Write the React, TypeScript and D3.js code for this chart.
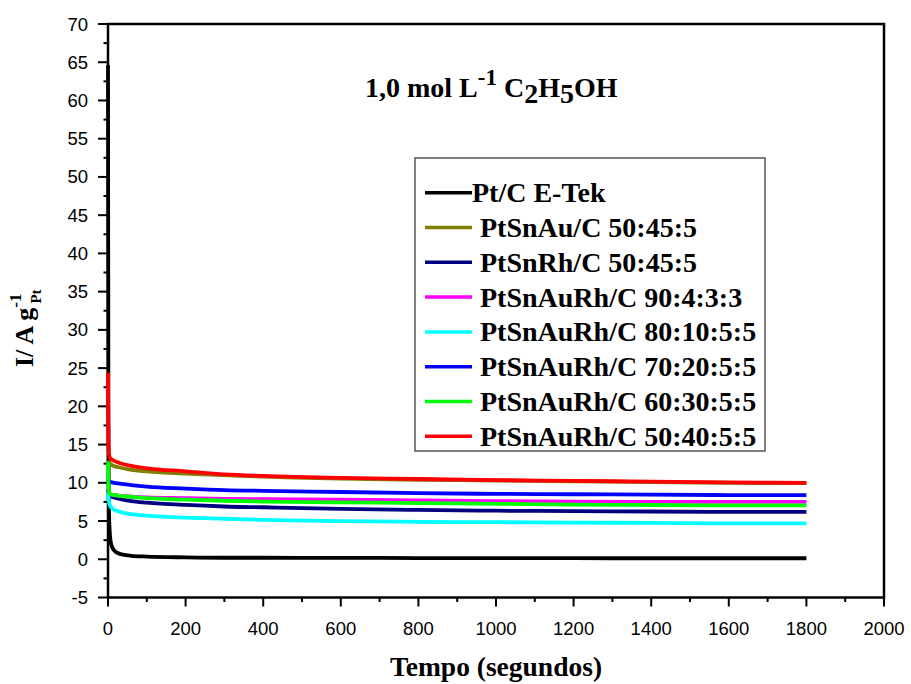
import React from "react";
import * as d3 from "d3";

const width = 911;
const height = 684;
const margin = { top: 24, right: 27, bottom: 86.5, left: 108 };

// time samples (s) shared by every curve
const tempo = [0, 1, 2, 4, 8, 15, 30, 60, 100, 200, 300, 400, 600, 800, 1000, 1200, 1400, 1600, 1800];

const etek = [64.6, 20, 8, 4, 2, 1.2, 0.7, 0.45, 0.35, 0.25, 0.2, 0.2, 0.18, 0.16, 0.15, 0.14, 0.13, 0.13, 0.13];
const ptSnAu = [12.9, 12.8, 12.7, 12.6, 12.4, 12.2, 12.0, 11.7, 11.5, 11.2, 11.0, 10.8, 10.55, 10.4, 10.3, 10.2, 10.1, 10.0, 9.95];
const ptSnRh = [9.0, 8.6, 8.4, 8.3, 8.2, 8.1, 7.9, 7.6, 7.4, 7.1, 6.9, 6.8, 6.6, 6.45, 6.35, 6.3, 6.25, 6.2, 6.2];
const r90 = [9.2, 8.8, 8.6, 8.5, 8.45, 8.4, 8.3, 8.2, 8.1, 8.0, 7.9, 7.85, 7.8, 7.7, 7.6, 7.55, 7.5, 7.5, 7.5];
const r80 = [8.8, 8.2, 7.7, 7.2, 6.8, 6.5, 6.2, 5.9, 5.7, 5.45, 5.3, 5.15, 5.0, 4.9, 4.85, 4.8, 4.75, 4.7, 4.7];
const r70 = [10.5, 10.3, 10.2, 10.15, 10.1, 10.0, 9.9, 9.7, 9.5, 9.25, 9.05, 8.95, 8.8, 8.65, 8.55, 8.5, 8.45, 8.4, 8.4];
const r60 = [12.7, 10, 9, 8.6, 8.5, 8.4, 8.3, 8.15, 8.0, 7.8, 7.65, 7.55, 7.45, 7.35, 7.25, 7.15, 7.1, 7.05, 7.05];
const r50 = [24.4, 16, 14, 13.4, 13.1, 12.9, 12.6, 12.2, 11.9, 11.5, 11.1, 10.9, 10.65, 10.5, 10.35, 10.25, 10.15, 10.05, 10.0];

const labels = [
  "Pt/C E-Tek",
  "PtSnAu/C 50:45:5",
  "PtSnRh/C 50:45:5",
  "PtSnAuRh/C 90:4:3:3",
  "PtSnAuRh/C 80:10:5:5",
  "PtSnAuRh/C 70:20:5:5",
  "PtSnAuRh/C 60:30:5:5",
  "PtSnAuRh/C 50:40:5:5",
];
const colors = ["#000000", "#808000", "#000080", "#ff00ff", "#00ffff", "#0000ff", "#00ff00", "#ff0000"];
const seriesValues = [etek, ptSnAu, ptSnRh, r90, r80, r70, r60, r50];

const xTicks = d3.range(0, 2001, 200);
const xMinor = d3.range(100, 2000, 200);
const yTicks = d3.range(-5, 71, 5);
const yMinor = d3.range(-2.5, 70, 5);

const serif = "'Liberation Serif', 'Times New Roman', serif";
const sans = "'Liberation Sans', Arial, sans-serif";

export default function App() {
  const x = d3.scaleLinear().domain([0, 2000]).range([margin.left, width - margin.right]);
  const y = d3.scaleLinear().domain([-5, 70]).range([height - margin.bottom, margin.top]);
  const line = d3
    .line<number>()
    .x((_, i) => x(tempo[i]))
    .y((d) => y(d))
    .curve(d3.curveMonotoneX);

  const x0 = x(0);
  const x1 = x(2000);
  const yb = y(-5);
  const yt = y(70);

  // legend layout
  const lg = { x: 415, y: 158, w: 350, h: 293, row: 34.8, first: 192.7 };

  return (
    <svg
      width={width}
      height={height}
      style={{ position: "absolute", left: 0, top: 0, background: "#fff" }}
    >
      {/* frame */}
      <rect x={x0} y={yt} width={x1 - x0} height={yb - yt} fill="none" stroke="#000" strokeWidth={2.5} />

      {/* ticks */}
      <g stroke="#000" strokeWidth={2}>
        {xTicks.map((t) => (
          <line key={t} x1={x(t)} x2={x(t)} y1={yb} y2={yb + 9} />
        ))}
        {xMinor.map((t) => (
          <line key={"m" + t} x1={x(t)} x2={x(t)} y1={yb} y2={yb + 4.5} />
        ))}
        {yTicks.map((t) => (
          <line key={"y" + t} x1={x0 - 10} x2={x0} y1={y(t)} y2={y(t)} />
        ))}
        {yMinor.map((t) => (
          <line key={"ym" + t} x1={x0 - 4.5} x2={x0} y1={y(t)} y2={y(t)} />
        ))}
      </g>
      <g fontFamily={sans} fontSize={18.5} fill="#000">
        {xTicks.map((t) => (
          <text key={t} x={x(t)} y={yb + 37} textAnchor="middle">
            {t}
          </text>
        ))}
        {yTicks.map((t) => (
          <text key={t} x={x0 - 20} y={y(t) + 6.5} textAnchor="end">
            {t}
          </text>
        ))}
      </g>

      {/* curves, drawn over the axis like the original */}
      <g fill="none" strokeWidth={3.8} strokeLinejoin="round">
        {seriesValues.map((vals, k) => (
          <path key={k} d={line(vals) || ""} stroke={colors[k]} />
        ))}
      </g>

      {/* axis titles */}
      <text x={(x0 + x1) / 2} y={676} textAnchor="middle" fontFamily={serif} fontWeight="bold" fontSize={27.5}>
        Tempo (segundos)
      </text>
      <text
        transform="translate(33,367) rotate(-90)"
        fontFamily={serif}
        fontWeight="bold"
        fontSize={26}
      >
        I/ A g
        <tspan fontSize={17} dy={-12}>-1</tspan>
        <tspan fontSize={15} dy={20} dx={-10}>Pt</tspan>
      </text>

      {/* title */}
      <text x={365} y={97} fontFamily={serif} fontWeight="bold" fontSize={28}>
        1,0 mol L
        <tspan fontSize={23} dy={-12}>-1</tspan>
        <tspan dy={12}> C</tspan>
        <tspan dy={6}>2</tspan>
        <tspan dy={-6}>H</tspan>
        <tspan dy={6}>5</tspan>
        <tspan dy={-6}>OH</tspan>
      </text>

      {/* legend */}
      <rect x={lg.x} y={lg.y} width={lg.w} height={lg.h} fill="#fff" stroke="#555" strokeWidth={1.5} />
      {labels.map((name, k) => {
        const cy = lg.first + k * lg.row;
        return (
          <g key={name}>
            <line x1={425} x2={472} y1={cy} y2={cy} stroke={colors[k]} strokeWidth={3.5} />
            <text
              x={k === 0 ? 472 : 480}
              y={cy + 9.5}
              fontFamily={serif}
              fontWeight="bold"
              fontSize={28}
            >
              {name}
            </text>
          </g>
        );
      })}
    </svg>
  );
}
